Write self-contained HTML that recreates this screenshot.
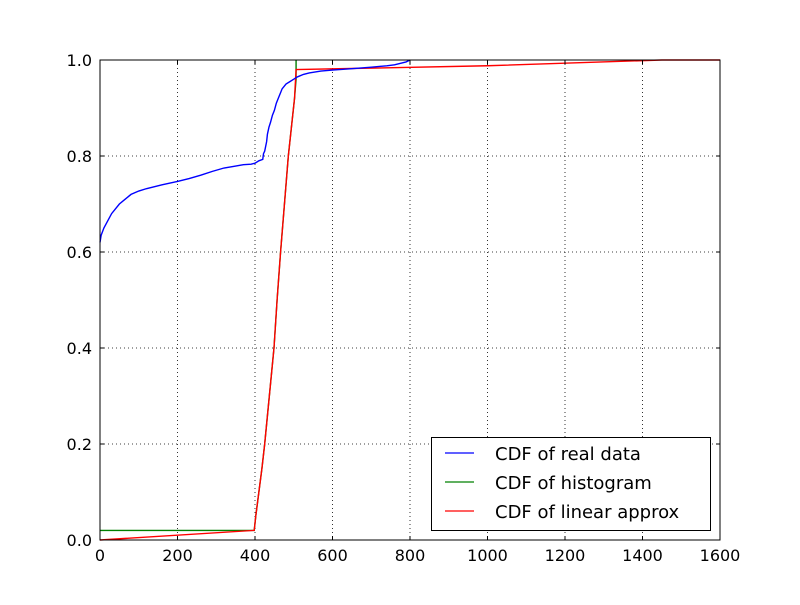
<!DOCTYPE html>
<html><head><meta charset="utf-8"><style>
body{margin:0;background:#fff;}
svg text{font-family:"DejaVu Sans","Liberation Sans",sans-serif;}
</style></head><body>
<svg id="chart" width="800" height="600">
<rect width="800" height="600" fill="#fff"/>
<g id="grid"></g><g id="series"></g><g id="axes"></g>
<g>
<rect x="431.5" y="437.5" width="279" height="93" fill="#fff" stroke="#000" stroke-width="1"/>
<line x1="445" y1="453" x2="474" y2="453" stroke="#0000ff" stroke-width="1.3"/>
<text x="495" y="460" font-size="18">CDF of real data</text>
<line x1="445" y1="482" x2="474" y2="482" stroke="#008000" stroke-width="1.3"/>
<text x="495" y="489" font-size="18">CDF of histogram</text>
<line x1="445" y1="511" x2="474" y2="511" stroke="#ff0000" stroke-width="1.3"/>
<text x="495" y="518" font-size="18">CDF of linear approx</text>
</g>
</svg>
<script>
const xTicks=[0,200,400,600,800,1000,1200,1400,1600];
const yTicks=[0.0,0.2,0.4,0.6,0.8,1.0];
const realX=[0,3,10,20,30,40,50,65,80,100,120,160,200,230,260,290,320,350,370,390,400,410,420,422,425,430,432,436,440,445,450,455,460,465,470,480,490,500,510,525,540,570,600,650,700,740,760,790,800];
const realY=[0.62,0.635,0.65,0.665,0.68,0.69,0.70,0.71,0.72,0.727,0.732,0.74,0.747,0.753,0.76,0.768,0.775,0.779,0.782,0.783,0.785,0.79,0.793,0.805,0.81,0.83,0.845,0.86,0.87,0.885,0.895,0.91,0.92,0.93,0.94,0.95,0.955,0.96,0.965,0.97,0.973,0.977,0.979,0.982,0.985,0.988,0.99,0.996,1.0];
const histX=[0,398,402,410,418,425,437,449,457,466,476,486,494,502,506,506];
const histY=[0.02,0.02,0.05,0.1,0.15,0.2,0.3,0.4,0.5,0.6,0.7,0.8,0.86,0.92,0.96,1.0];
const linX=[0,398,402,410,418,425,437,449,457,466,476,486,494,502,506,1000,1450,1600];
const linY=[0.0,0.02,0.05,0.1,0.15,0.2,0.3,0.4,0.5,0.6,0.7,0.8,0.86,0.92,0.98,0.988,1.0,1.0];
const L=100,R=720,T=60,B=540;
const sx=v=>L+(v-0)/(1600-0)*(R-L);
const sy=v=>B-(v-0)/(1-0)*(B-T);
const NS="http://www.w3.org/2000/svg";
function mk(tag,attrs,parent){const e=document.createElementNS(NS,tag);for(const k in attrs)e.setAttribute(k,attrs[k]);parent.appendChild(e);return e;}
const grid=document.getElementById('grid'),axes=document.getElementById('axes'),series=document.getElementById('series');
xTicks.forEach(t=>{const x=sx(t);
 const g=mk('line',{x1:x,y1:T,x2:x,y2:B,stroke:'#000','stroke-dasharray':'1,3','stroke-width':0.8},grid);
 
 
 mk('line',{x1:x,y1:B,x2:x,y2:B-4,stroke:'#000'},axes);
 mk('line',{x1:x,y1:T,x2:x,y2:T+4,stroke:'#000'},axes);
 const tx=mk('text',{x:x,y:B+21,'font-size':16,'text-anchor':'middle'},axes);tx.textContent=t;
 
 
});
yTicks.forEach(t=>{const y=sy(t);
 const g=mk('line',{x1:L,y1:y,x2:R,y2:y,stroke:'#000','stroke-dasharray':'1,3','stroke-width':0.8},grid);
 
 
 mk('line',{x1:L,y1:y,x2:L+4,y2:y,stroke:'#000'},axes);
 mk('line',{x1:R,y1:y,x2:R-4,y2:y,stroke:'#000'},axes);
 const tx=mk('text',{x:L-8,y:y+6,'font-size':16,'text-anchor':'end'},axes);tx.textContent=t.toFixed(1);
 
 
});
function line(xs,ys,color,name){
 const p=mk('polyline',{points:xs.map((x,i)=>sx(x)+','+sy(ys[i])).join(' '),fill:'none',stroke:color,'stroke-width':1.4},series);
 
 
}
line(histX,histY,'#008000','histogram-cdf-line');
line(linX,linY,'#ff0000','linear-approx-cdf-line');
line(realX,realY,'#0000ff','real-data-cdf-line');
const fr=mk('rect',{x:L,y:T,width:R-L,height:B-T,fill:'none',stroke:'#000','stroke-width':1},axes);


</script>
</body></html>
